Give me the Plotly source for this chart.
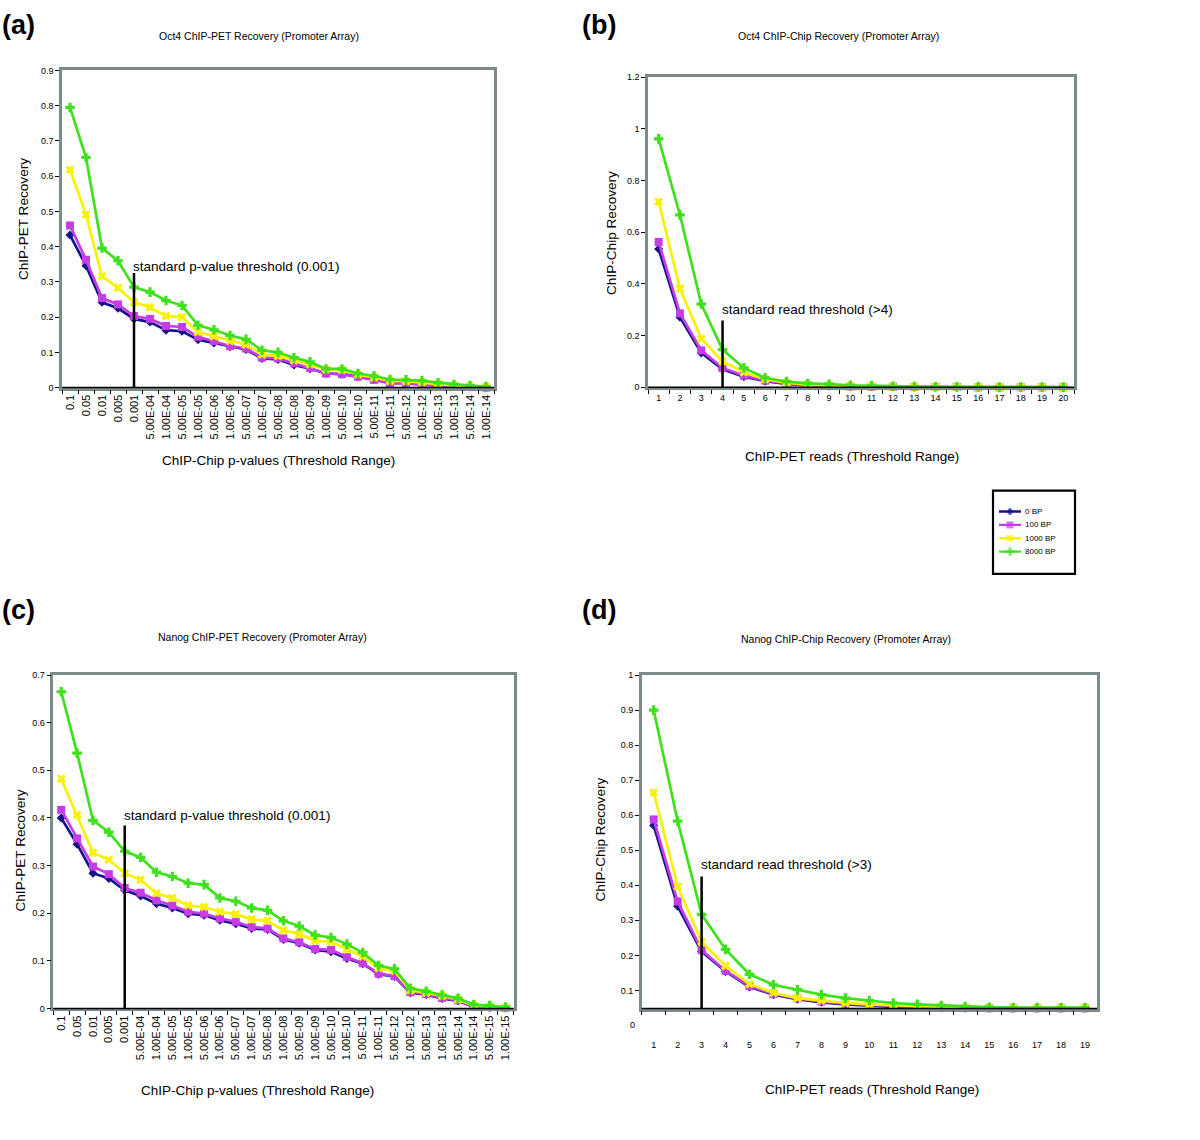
import plotly.graph_objects as go

# ---------------- data ----------------
pvals_a = ["0.1", "0.05", "0.01", "0.005", "0.001", "5.00E-04", "1.00E-04", "5.00E-05",
           "1.00E-05", "5.00E-06", "1.00E-06", "5.00E-07", "1.00E-07", "5.00E-08",
           "1.00E-08", "5.00E-09", "1.00E-09", "5.00E-10", "1.00E-10", "5.00E-11",
           "1.00E-11", "5.00E-12", "1.00E-12", "5.00E-13", "1.00E-13", "5.00E-14", "1.00E-14"]
pvals_c = pvals_a + ["5.00E-15", "1.00E-15"]
reads_b = ["1", "2", "3", "4", "5", "6", "7", "8", "9", "10", "11", "12", "13", "14",
           "15", "16", "17", "18", "19", "20"]
reads_d = ["1", "2", "3", "4", "5", "6", "7", "8", "9", "10", "11", "12", "13", "14",
           "15", "16", "17", "18", "19"]

series_names = ["0 BP", "100 BP", "1000 BP", "8000 BP"]

# (a) Oct4 ChIP-PET recovery
a_0 = [0.433, 0.346, 0.242, 0.225, 0.195, 0.186, 0.163, 0.160, 0.136, 0.127, 0.116, 0.108, 0.083, 0.080,
       0.064, 0.054, 0.040, 0.038, 0.032, 0.024, 0.014, 0.013, 0.009, 0.006, 0.004, 0.002, 0.001]
a_100 = [0.460, 0.363, 0.254, 0.236, 0.203, 0.195, 0.175, 0.172, 0.144, 0.132, 0.118, 0.111, 0.085, 0.083,
         0.069, 0.056, 0.040, 0.038, 0.031, 0.022, 0.012, 0.012, 0.008, 0.005, 0.003, 0.002, 0.000]
a_1000 = [0.618, 0.491, 0.316, 0.283, 0.242, 0.228, 0.203, 0.200, 0.158, 0.146, 0.132, 0.122, 0.094, 0.090,
          0.078, 0.066, 0.052, 0.050, 0.037, 0.029, 0.019, 0.018, 0.015, 0.010, 0.006, 0.004, 0.002]
a_8000 = [0.795, 0.653, 0.396, 0.360, 0.285, 0.271, 0.247, 0.233, 0.177, 0.164, 0.148, 0.137, 0.106, 0.100,
          0.085, 0.073, 0.053, 0.053, 0.040, 0.033, 0.023, 0.022, 0.020, 0.014, 0.009, 0.006, 0.003]

# (b) Oct4 ChIP-Chip recovery
b_0 = [0.535, 0.271, 0.133, 0.070, 0.041, 0.024, 0.013, 0.007, 0.004, 0.003, 0.002, 0.001, 0.001, 0.001,
       0.000, 0.000, 0.000, 0.000, 0.000, 0.000]
b_100 = [0.562, 0.286, 0.143, 0.075, 0.045, 0.026, 0.015, 0.008, 0.005, 0.003, 0.002, 0.002, 0.001, 0.001,
         0.001, 0.000, 0.000, 0.000, 0.000, 0.000]
b_1000 = [0.718, 0.382, 0.188, 0.101, 0.058, 0.031, 0.018, 0.010, 0.006, 0.004, 0.003, 0.002, 0.002, 0.001,
          0.001, 0.001, 0.001, 0.000, 0.000, 0.000]
b_8000 = [0.961, 0.667, 0.322, 0.146, 0.075, 0.037, 0.022, 0.015, 0.012, 0.008, 0.007, 0.004, 0.003, 0.002,
          0.002, 0.002, 0.001, 0.001, 0.001, 0.001]

# (c) Nanog ChIP-PET recovery
c_0 = [0.400, 0.345, 0.284, 0.273, 0.248, 0.236, 0.220, 0.211, 0.199, 0.196, 0.185, 0.178, 0.168, 0.166,
       0.145, 0.137, 0.123, 0.119, 0.105, 0.094, 0.072, 0.067, 0.033, 0.029, 0.021, 0.016, 0.003, 0.002, 0.001]
c_100 = [0.417, 0.357, 0.298, 0.282, 0.253, 0.243, 0.227, 0.216, 0.203, 0.199, 0.189, 0.182, 0.171, 0.168,
         0.147, 0.139, 0.125, 0.123, 0.108, 0.095, 0.073, 0.068, 0.034, 0.030, 0.022, 0.017, 0.004, 0.003, 0.001]
c_1000 = [0.482, 0.406, 0.327, 0.312, 0.284, 0.270, 0.242, 0.232, 0.216, 0.213, 0.203, 0.198, 0.187, 0.184,
          0.164, 0.156, 0.142, 0.140, 0.124, 0.109, 0.085, 0.079, 0.038, 0.033, 0.026, 0.019, 0.006, 0.004, 0.002]
c_8000 = [0.665, 0.536, 0.395, 0.370, 0.330, 0.317, 0.286, 0.277, 0.263, 0.260, 0.232, 0.225, 0.211, 0.206,
          0.184, 0.173, 0.154, 0.149, 0.135, 0.117, 0.090, 0.083, 0.042, 0.036, 0.028, 0.021, 0.008, 0.006, 0.003]

# (d) Nanog ChIP-Chip recovery
d_0 = [0.571, 0.340, 0.211, 0.154, 0.110, 0.088, 0.075, 0.066, 0.060, 0.056, 0.053, 0.051, 0.050, 0.049,
       0.049, 0.049, 0.049, 0.049, 0.049]
d_100 = [0.588, 0.354, 0.215, 0.156, 0.112, 0.090, 0.077, 0.068, 0.062, 0.058, 0.055, 0.052, 0.050, 0.050,
         0.049, 0.049, 0.049, 0.049, 0.049]
d_1000 = [0.665, 0.397, 0.239, 0.170, 0.118, 0.093, 0.078, 0.071, 0.064, 0.060, 0.057, 0.055, 0.053, 0.051,
          0.050, 0.050, 0.050, 0.050, 0.050]
d_8000 = [0.900, 0.583, 0.317, 0.217, 0.146, 0.116, 0.102, 0.088, 0.078, 0.071, 0.064, 0.060, 0.057, 0.054,
          0.052, 0.051, 0.051, 0.051, 0.051]

# threshold markers: (category, bottom, top)
thr_a = ("0.001", 0.0, 0.325)
thr_b = ("4", 0.0, 0.258)
thr_c = ("0.001", 0.0, 0.384)
thr_d = ("3", 0.048, 0.425)

# ---------------- style ----------------
W, H = 1200, 1140
COLORS = ["#14148a", "#c63ce6", "#f6f200", "#3fe01c"]
SYMBOLS = ["diamond", "square", "x", "cross"]
MSIZE = [7, 8, 8, 8]
FONT = "Liberation Sans, Arial, Helvetica, sans-serif"
FRAME = "#7b8a8a"


def fx(x):
    return x / W


def fy(y):
    return 1 - y / H


panels = [
    dict(cats=pvals_a, ys=[a_0, a_100, a_1000, a_8000], box=(62, 494, 66, 386), yr=[0, 0.9], dt=0.1,
         thr=thr_a, thr_text="standard p-value threshold (0.001)", thr_ty=0.345, angle=-90, xfs=11,
         title="Oct4 ChIP-PET Recovery (Promoter Array)", title_xy=(259, 31),
         ytitle="ChIP-PET Recovery", ytitle_xy=(23, 216),
         xtitle="ChIP-Chip p-values (Threshold Range)", xtitle_xy=(278, 460),
         label="(a)", label_xy=(0, 20)),
    dict(cats=reads_b, ys=[b_0, b_100, b_1000, b_8000], box=(648, 1074, 72.7, 385.7), yr=[0, 1.2], dt=0.2,
         thr=thr_b, thr_text="standard read threshold (>4)", thr_ty=0.30, angle=0, xfs=9,
         title="Oct4 ChIP-Chip Recovery (Promoter Array)", title_xy=(838, 31),
         ytitle="ChIP-Chip Recovery", ytitle_xy=(612, 230),
         xtitle="ChIP-PET reads (Threshold Range)", xtitle_xy=(852, 455),
         label="(b)", label_xy=(580, 20)),
    dict(cats=pvals_c, ys=[c_0, c_100, c_1000, c_8000], box=(53.3, 513.5, 676, 1012.3), yr=[0, 0.7], dt=0.1,
         thr=thr_c, thr_text="standard p-value threshold (0.001)", thr_ty=0.406, angle=-90, xfs=11,
         title="Nanog ChIP-PET Recovery (Promoter Array)", title_xy=(262, 638),
         ytitle="ChIP-PET Recovery", ytitle_xy=(21, 853),
         xtitle="ChIP-Chip p-values (Threshold Range)", xtitle_xy=(257, 1095),
         label="(c)", label_xy=(0, 610)),
    dict(cats=reads_d, ys=[d_0, d_100, d_1000, d_8000], box=(641.7, 1097, 676, 1012.5), yr=[0.048, 1], dt=0.1,
         thr=thr_d, thr_text="standard read threshold (>3)", thr_ty=0.458, angle=0, xfs=9,
         title="Nanog ChIP-Chip Recovery (Promoter Array)", title_xy=(846, 640),
         ytitle="ChIP-Chip Recovery", ytitle_xy=(601, 842),
         xtitle="ChIP-PET reads (Threshold Range)", xtitle_xy=(872, 1094),
         label="(d)", label_xy=(580, 610)),
]

fig = go.Figure()
layout = dict(width=W, height=H, margin=dict(l=0, r=0, t=0, b=0),
              paper_bgcolor="white", plot_bgcolor="white",
              font=dict(family=FONT, color="black"), showlegend=False)
annotations = []
shapes = []

for k, p in enumerate(panels):
    n = k + 1
    xa = "x" if n == 1 else f"x{n}"
    ya = "y" if n == 1 else f"y{n}"
    x0, x1, y0, y1 = p["box"]
    for s in range(4):
        fig.add_trace(go.Scatter(
            x=p["cats"], y=p["ys"][s], xaxis=xa, yaxis=ya, mode="lines+markers",
            name=series_names[s], legendgroup=series_names[s],
            line=dict(color=COLORS[s], width=2.7),
            marker=dict(symbol=SYMBOLS[s], size=MSIZE[s], color=COLORS[s],
                        line=dict(width=0)),
            cliponaxis=False))
    cat, lo, hi = p["thr"]
    fig.add_trace(go.Scatter(x=[cat, cat], y=[lo, hi], xaxis=xa, yaxis=ya, mode="lines",
                             line=dict(color="black", width=2.5), hoverinfo="skip"))
    ncat = len(p["cats"])
    layout["xaxis" if n == 1 else f"xaxis{n}"] = dict(
        domain=[fx(x0), fx(x1)], anchor=ya, type="category", range=[-0.5, ncat - 0.5],
        showline=True, linecolor=FRAME, linewidth=2.5, mirror=True,
        ticks="outside", tickson="boundaries", ticklen=4, tickwidth=1, tickcolor="black",
        tickangle=p["angle"], tickfont=dict(size=p["xfs"], family=FONT),
        ticklabelstandoff=(26 if n == 4 else 0),
        showgrid=False, zeroline=False, fixedrange=True)
    layout["yaxis" if n == 1 else f"yaxis{n}"] = dict(
        domain=[fy(y1), fy(y0)], anchor=xa, range=p["yr"], dtick=p["dt"], tick0=0,
        showline=True, linecolor=FRAME, linewidth=2.5, mirror=True,
        ticks="outside", ticklen=4, tickwidth=1, tickcolor="black",
        tickfont=dict(size=9, family=FONT),
        showgrid=False, zeroline=False, fixedrange=True)
    # black category axis line along the bottom
    shapes.append(dict(type="line", xref=f"{xa} domain", yref=f"{ya} domain",
                       x0=0, x1=1, y0=0, y1=0, line=dict(color="black", width=1.5)))
    # threshold annotation (category index for annotation positioning)
    annotations.append(dict(x=p["cats"].index(cat), y=p["thr_ty"], xref=xa, yref=ya, text=p["thr_text"],
                            showarrow=False, xanchor="left", yanchor="middle", xshift=-3,
                            font=dict(size=13.5, family=FONT)))
    # chart title
    tx, ty = p["title_xy"]
    annotations.append(dict(x=fx(tx), y=fy(ty), xref="paper", yref="paper", text=p["title"],
                            showarrow=False, xanchor="center", yanchor="middle",
                            font=dict(size=10.5, family=FONT)))
    # axis titles
    tx, ty = p["ytitle_xy"]
    annotations.append(dict(x=fx(tx), y=fy(ty), xref="paper", yref="paper", text=p["ytitle"],
                            showarrow=False, xanchor="center", yanchor="middle", textangle=-90,
                            font=dict(size=13.6, family=FONT)))
    tx, ty = p["xtitle_xy"]
    annotations.append(dict(x=fx(tx), y=fy(ty), xref="paper", yref="paper", text=p["xtitle"],
                            showarrow=False, xanchor="center", yanchor="middle",
                            font=dict(size=13.5, family=FONT)))
    # panel label
    tx, ty = p["label_xy"]
    annotations.append(dict(x=fx(tx), y=fy(ty), xref="paper", yref="paper", text="<b>" + p["label"] + "</b>",
                            showarrow=False, xanchor="left", yanchor="middle",
                            font=dict(size=27, family=FONT)))

# stray "0" tick label of panel (d), which sits below its raised category axis
annotations.append(dict(x=fx(637), y=fy(1029), xref="paper", yref="paper", text="0", showarrow=False,
                        xanchor="right", yanchor="middle", font=dict(size=9, family=FONT)))

# ---------------- legend (boxed key, drawn on its own small axis) ----------------
LEG_ROW0, LEG_DY = 511, 13.5
layout["xaxis5"] = dict(domain=[fx(999), fx(1021)], anchor="y5", range=[0, 1], visible=False,
                        fixedrange=True)
layout["yaxis5"] = dict(domain=[fy(LEG_ROW0 + 3.5 * LEG_DY), fy(LEG_ROW0 - 0.5 * LEG_DY)], anchor="x5",
                        range=[3.5, -0.5], visible=False, fixedrange=True)
for s in range(4):
    fig.add_trace(go.Scatter(x=[0, 0.5, 1], y=[s, s, s], xaxis="x5", yaxis="y5", mode="lines+markers",
                             line=dict(color=COLORS[s], width=2.4),
                             marker=dict(symbol=SYMBOLS[s], size=[0, MSIZE[s] - 1, 0], color=COLORS[s],
                                         line=dict(width=0)),
                             hoverinfo="skip", cliponaxis=False))
    annotations.append(dict(x=fx(1023), y=fy(LEG_ROW0 + s * LEG_DY), xref="paper", yref="paper",
                            text=series_names[s], showarrow=False, xanchor="left", yanchor="middle",
                            font=dict(size=8, family=FONT)))
shapes.append(dict(type="rect", xref="paper", yref="paper", x0=fx(993), x1=fx(1075),
                   y0=fy(574), y1=fy(490), line=dict(color="black", width=2.2),
                   fillcolor="rgba(0,0,0,0)"))

layout["annotations"] = annotations
layout["shapes"] = shapes
fig.update_layout(**layout)
fig.write_html("out.html", config={"displayModeBar": False},
               post_script="document.body.style.margin='0px'; document.body.style.overflow='hidden';")
